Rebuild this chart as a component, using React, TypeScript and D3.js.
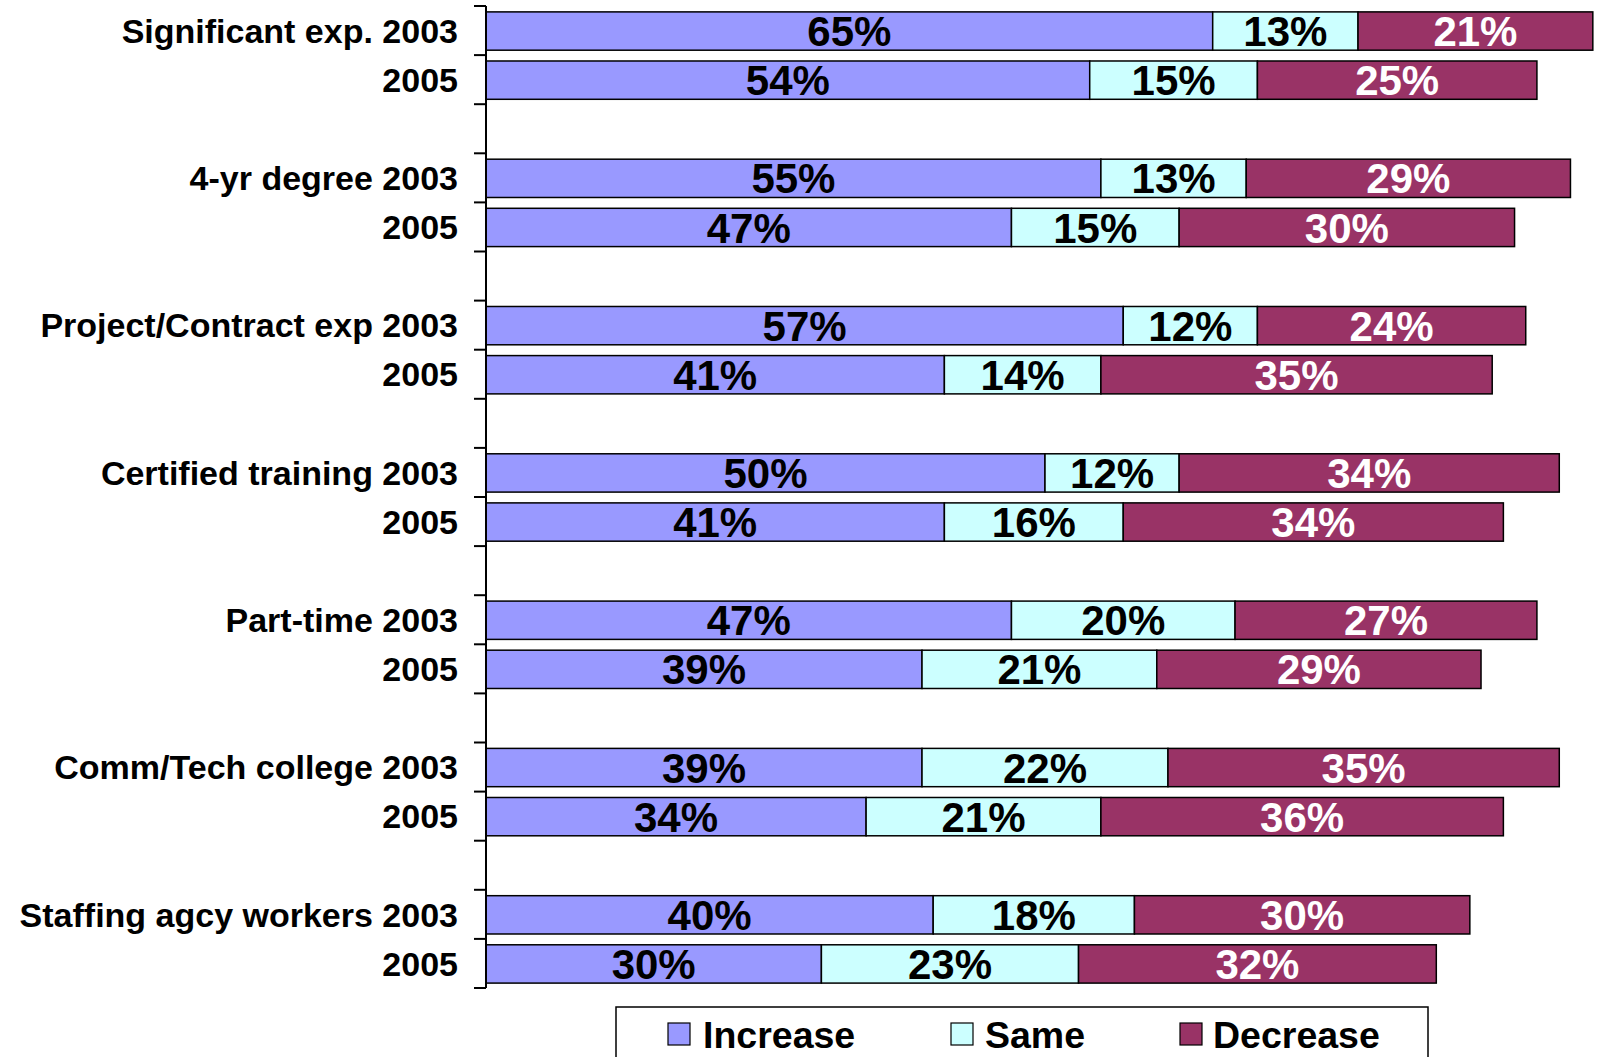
import React from "react";
import * as d3 from "d3";

const categories = [
  "Significant exp. 2003", "2005", "",
  "4-yr degree 2003", "2005", " ",
  "Project/Contract exp 2003", "2005", "  ",
  "Certified training 2003", "2005", "   ",
  "Part-time 2003", "2005", "    ",
  "Comm/Tech college 2003", "2005", "     ",
  "Staffing agcy workers 2003", "2005",
];
const increase = [65, 54, null, 55, 47, null, 57, 41, null, 50, 41, null, 47, 39, null, 39, 34, null, 40, 30];
const same = [13, 15, null, 13, 15, null, 12, 14, null, 12, 16, null, 20, 21, null, 22, 21, null, 18, 23];
const decrease = [21, 25, null, 29, 30, null, 24, 35, null, 34, 34, null, 27, 29, null, 35, 36, null, 30, 32];
const seriesNames = ["Increase", "Same", "Decrease"];
const seriesColors = ["#9999FF", "#CCFFFF", "#993366"];
const labelColors = ["#000000", "#000000", "#FFFFFF"];

const W = 1598;
const H = 1057;
const FONT = "'Liberation Sans', Arial, sans-serif";

export default function App() {
  const axisX = 486;
  const x = d3.scaleLinear().domain([0, 100]).range([axisX, axisX + 1118]);
  const y = d3.scaleBand<number>().domain(d3.range(categories.length)).range([6, 988]).padding(0);
  const step = y.step();
  const barTop = step * 0.12;
  const barH = step * 0.78;
  const series = [increase, same, decrease];

  const bars: React.ReactNode[] = [];
  const labels: React.ReactNode[] = [];
  categories.forEach((_, i) => {
    if (increase[i] == null) return;
    let acc = 0;
    series.forEach((s, k) => {
      const v = s[i] as number;
      const x0 = x(acc);
      const x1 = x(acc + v);
      const yy = (y(i) as number) + barTop;
      bars.push(
        <rect key={`b${i}-${k}`} x={x0} y={yy} width={x1 - x0} height={barH}
          fill={seriesColors[k]} stroke="#000" strokeWidth={1.5} />
      );
      labels.push(
        <text key={`l${i}-${k}`} x={(x0 + x1) / 2} y={yy + barH / 2} dy="0.36em"
          textAnchor="middle" fontFamily={FONT} fontWeight="bold" fontSize={42}
          fill={labelColors[k]}>{`${v}%`}</text>
      );
      acc += v;
    });
  });

  const ticks = d3.range(categories.length + 1).map((i) => 6 + i * step);

  const legendItems = [
    { sx: 668, tx: 703 },
    { sx: 951, tx: 985 },
    { sx: 1180, tx: 1213 },
  ];

  return (
    <svg width={W} height={H} style={{ position: "absolute", left: 0, top: 0, background: "#fff" }}>
      <rect x={0} y={0} width={W} height={H} fill="#fff" />
      {bars}
      {labels}
      <line x1={axisX} x2={axisX} y1={6} y2={988} stroke="#000" strokeWidth={2} />
      {ticks.map((t, i) => (
        <line key={`t${i}`} x1={axisX - 12} x2={axisX} y1={t} y2={t} stroke="#000" strokeWidth={2} />
      ))}
      {categories.map((c, i) =>
        c.trim() === "" ? null : (
          <text key={`c${i}`} x={458} y={(y(i) as number) + step / 2} dy="0.36em" textAnchor="end"
            fontFamily={FONT} fontWeight="bold" fontSize={34} fill="#000">{c}</text>
        )
      )}
      <rect x={616} y={1007} width={812} height={80} fill="#fff" stroke="#000" strokeWidth={1.5} />
      {seriesNames.map((n, k) => (
        <g key={`lg${k}`}>
          <rect x={legendItems[k].sx} y={1023} width={22} height={22} fill={seriesColors[k]} stroke="#000" strokeWidth={1.2} />
          <text x={legendItems[k].tx} y={1034} dy="0.36em" fontFamily={FONT} fontWeight="bold" fontSize={37.5} fill="#000">{n}</text>
        </g>
      ))}
    </svg>
  );
}
